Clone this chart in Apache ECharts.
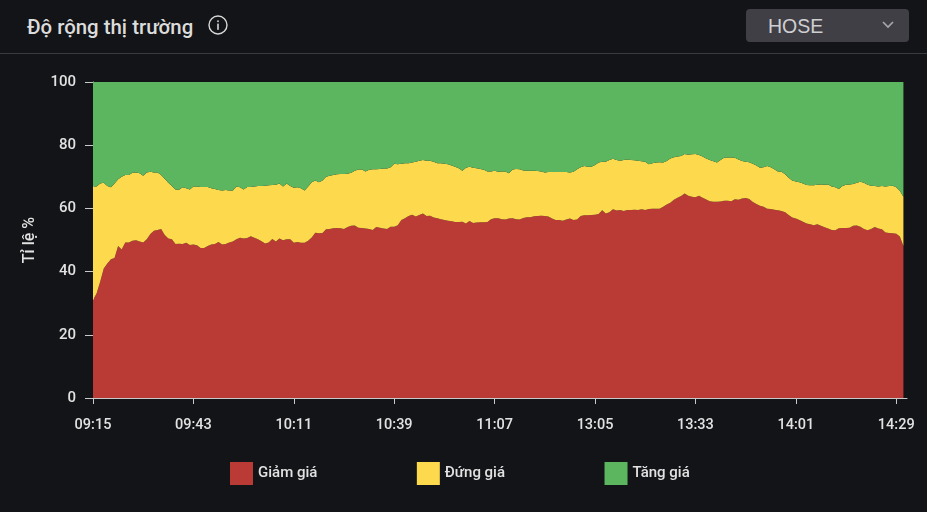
<!DOCTYPE html>
<html lang="vi">
<head>
<meta charset="utf-8">
<title>Độ rộng thị trường</title>
<script src="https://cdn.jsdelivr.net/npm/echarts@6/dist/echarts.min.js"></script>
<style>
  html, body { margin: 0; padding: 0; background: #131417; width: 927px; height: 512px; overflow: hidden; }
  .header { position: absolute; left: 0; top: 0; width: 927px; height: 53px; border-bottom: 1px solid #3b3b3e; font-family: Roboto, sans-serif; }
  .title { position: absolute; left: 27px; top: 15px; font-size: 20.4px; line-height: 24px; font-weight: 500; color: #dcdcdc; }
  .info { position: absolute; left: 208px; top: 15px; }
  .select { position: absolute; left: 746px; top: 9px; width: 163px; height: 33px; background: #3f3f45; border-radius: 4px; }
  .select span { position: absolute; left: 22px; top: 6px; font: 19.5px/22px "Liberation Sans", Arial, sans-serif; color: #cfcfd2; }
  .select svg { position: absolute; left: 135px; top: 11px; }
  #chart { position: absolute; left: 0; top: 54px; width: 927px; height: 458px; }
</style>
</head>
<body>
<div class="header">
  <div class="title">Độ rộng thị trường</div>
  <svg class="info" width="20" height="20" viewBox="0 0 20 20">
    <circle cx="10" cy="10" r="9" fill="none" stroke="#d8d8d8" stroke-width="1.4"/>
    <rect x="9.2" y="8.6" width="1.6" height="6.2" fill="#d8d8d8"/>
    <rect x="9.2" y="5.4" width="1.6" height="1.7" fill="#d8d8d8"/>
  </svg>
  <div class="select">
    <span>HOSE</span>
    <svg width="14" height="10" viewBox="0 0 14 10"><path d="M2 2 L7 7 L12 2" fill="none" stroke="#a9a9ad" stroke-width="1.6"/></svg>
  </div>
</div>
<div id="chart"></div>
<script>
const categories = [
  '09:15','09:16','09:17','09:18','09:19','09:20','09:21','09:22','09:23','09:24','09:25','09:26','09:27','09:28','09:29',
  '09:30','09:31','09:32','09:33','09:34','09:35','09:36','09:37','09:38','09:39','09:40','09:41','09:42','09:43','09:44',
  '09:45','09:46','09:47','09:48','09:49','09:50','09:51','09:52','09:53','09:54','09:55','09:56','09:57','09:58','09:59',
  '10:00','10:01','10:02','10:03','10:04','10:05','10:06','10:07','10:08','10:09','10:10','10:11','10:12','10:13','10:14',
  '10:15','10:16','10:17','10:18','10:19','10:20','10:21','10:22','10:23','10:24','10:25','10:26','10:27','10:28','10:29',
  '10:30','10:31','10:32','10:33','10:34','10:35','10:36','10:37','10:38','10:39','10:40','10:41','10:42','10:43','10:44',
  '10:45','10:46','10:47','10:48','10:49','10:50','10:51','10:52','10:53','10:54','10:55','10:56','10:57','10:58','10:59',
  '11:00','11:01','11:02','11:03','11:04','11:05','11:06','11:07','11:08','11:09','11:10','11:11','11:12','11:13','11:14',
  '11:15','11:16','11:17','11:18','11:19','11:20','11:21','11:22','11:23','11:24','11:25','11:26','11:27','11:28','11:29',
  '13:00','13:01','13:02','13:03','13:04','13:05','13:06','13:07','13:08','13:09','13:10','13:11','13:12','13:13','13:14',
  '13:15','13:16','13:17','13:18','13:19','13:20','13:21','13:22','13:23','13:24','13:25','13:26','13:27','13:28','13:29',
  '13:30','13:31','13:32','13:33','13:34','13:35','13:36','13:37','13:38','13:39','13:40','13:41','13:42','13:43','13:44',
  '13:45','13:46','13:47','13:48','13:49','13:50','13:51','13:52','13:53','13:54','13:55','13:56','13:57','13:58','13:59',
  '14:00','14:01','14:02','14:03','14:04','14:05','14:06','14:07','14:08','14:09','14:10','14:11','14:12','14:13','14:14',
  '14:15','14:16','14:17','14:18','14:19','14:20','14:21','14:22','14:23','14:24','14:25','14:26','14:27','14:28','14:29',
  '14:30','14:31','14:32'
]

const giamGia = [
  31.0,33.1,36.8,41.0,42.6,43.9,44.3,48.1,47.0,49.2,49.2,49.8,49.9,49.5,49.2,
  50.2,51.9,52.9,53.2,53.5,51.6,50.5,50.2,48.7,48.8,48.7,49.1,48.4,48.6,48.3,
  47.5,47.5,48.1,48.6,48.7,49.4,48.6,48.7,49.2,49.5,50.2,50.7,50.5,50.6,51.2,
  50.7,50.2,49.6,48.9,49.2,50.3,49.5,50.5,49.9,50.2,50.2,49.1,49.4,49.1,49.1,
  49.8,50.8,52.3,52.1,52.2,53.4,53.5,53.7,53.8,53.7,53.5,54.1,54.5,54.6,53.9,
  53.8,53.6,53.5,53.2,54.1,53.9,53.6,53.5,54.2,54.2,54.7,56.3,56.9,57.6,58.0,
  57.4,57.9,58.4,57.6,57.7,57.1,56.9,56.6,56.3,56.1,55.9,55.7,55.7,55.8,55.2,
  56.0,55.4,55.5,55.6,55.6,55.7,56.6,56.9,56.9,56.6,56.5,56.8,56.9,56.6,56.5,
  57.0,57.2,57.2,57.5,57.6,57.7,57.6,57.4,56.8,56.3,56.3,56.1,56.5,56.8,56.3,
  56.5,57.6,57.8,57.8,57.9,58.0,58.2,59.4,58.4,58.8,59.7,59.3,59.5,59.2,59.5,
  59.5,59.6,59.5,59.7,59.5,59.8,59.9,59.9,59.9,60.5,61.2,61.8,62.7,63.4,63.9,
  64.7,64.0,63.7,63.5,64.0,63.4,62.8,62.3,62.1,62.1,62.2,62.4,62.4,62.3,62.9,
  62.7,63.1,63.3,63.0,62.0,61.4,60.8,60.5,59.9,59.8,59.6,59.4,59.2,58.8,57.9,
  57.1,56.8,56.3,55.8,55.2,55.0,54.7,55.0,54.5,54.0,53.6,53.2,53.1,53.7,53.8,
  53.8,53.9,54.5,54.6,54.2,53.5,53.1,53.5,54.1,53.6,53.4,52.4,52.2,52.1,52.0,
  51.1,48.1
]

const dungGia = [
  35.9,33.8,31.1,27.1,24.5,22.8,23.6,21.1,23.0,21.4,21.4,21.5,21.5,21.6,21.1,
  21.2,19.7,18.5,18.2,17.1,17.8,17.6,16.9,17.3,17.1,18.0,17.3,17.6,18.3,18.6,
  19.3,19.3,18.7,17.8,17.4,16.4,17.1,17.1,16.5,16.2,16.7,16.0,15.5,16.2,15.6,
  16.2,16.9,17.5,18.3,18.1,17.1,18.0,17.4,17.0,17.7,16.9,17.4,17.3,17.3,16.6,
  17.1,17.5,16.5,16.2,16.6,16.6,16.8,16.9,17.0,17.2,17.4,16.9,16.8,17.3,18.4,
  18.5,18.1,18.7,19.2,18.3,18.6,19.0,19.1,18.8,19.9,19.3,17.8,17.4,16.7,16.5,
  17.4,17.2,16.9,17.5,17.4,17.7,17.4,17.7,17.8,17.9,17.7,17.5,17.0,16.1,17.7,
  17.2,17.5,17.2,16.9,16.6,16.0,15.1,15.0,14.7,15.1,15.2,14.3,15.4,15.9,15.9,
  15.0,14.7,14.7,14.4,14.2,14.0,13.8,14.1,14.7,15.2,15.2,15.4,15.0,14.6,15.3,
  15.9,15.4,15.6,15.4,15.3,15.7,16.3,15.4,16.4,16.5,16.0,16.0,15.6,16.1,16.0,
  15.8,15.6,15.6,15.2,15.3,14.2,14.4,14.6,14.7,14.0,13.8,14.0,13.5,13.0,12.7,
  12.5,13.0,13.4,13.7,12.9,13.0,13.0,13.0,12.8,12.4,13.1,13.6,13.7,13.8,13.1,
  12.8,11.9,11.5,11.6,12.1,12.2,12.1,12.5,13.5,13.2,12.8,12.3,12.4,12.0,11.8,
  11.7,11.7,12.0,12.1,12.2,12.3,12.6,12.5,13.1,13.5,14.0,13.7,13.6,12.4,13.3,
  13.7,13.7,13.2,13.5,14.2,14.6,14.4,13.7,13.0,13.3,13.7,14.5,14.9,15.1,14.7,
  14.5,15.6
]

const tangGia = [
  33.1,33.1,32.1,31.9,32.9,33.3,32.1,30.8,30.0,29.4,29.4,28.7,28.6,28.9,29.7,
  28.6,28.4,28.6,28.6,29.4,30.6,31.9,32.9,34.0,34.1,33.3,33.6,34.0,33.1,33.1,
  33.2,33.2,33.2,33.6,33.9,34.2,34.3,34.2,34.3,34.3,33.1,33.3,34.0,33.2,33.2,
  33.1,32.9,32.9,32.8,32.7,32.6,32.5,32.1,33.1,32.1,32.9,33.5,33.3,33.6,34.3,
  33.1,31.7,31.2,31.7,31.2,30.0,29.7,29.4,29.2,29.1,29.1,29.0,28.7,28.1,27.7,
  27.7,28.3,27.8,27.6,27.6,27.5,27.4,27.4,27.0,25.9,26.0,25.9,25.7,25.7,25.5,
  25.2,24.9,24.7,24.9,24.9,25.2,25.7,25.7,25.9,26.0,26.4,26.8,27.3,28.1,27.1,
  26.8,27.1,27.3,27.5,27.8,28.3,28.3,28.1,28.4,28.3,28.3,28.9,27.7,27.5,27.6,
  28.0,28.1,28.1,28.1,28.2,28.3,28.6,28.5,28.5,28.5,28.5,28.5,28.5,28.6,28.4,
  27.6,27.0,26.6,26.8,26.8,26.3,25.5,25.2,25.2,24.7,24.3,24.7,24.9,24.7,24.5,
  24.7,24.8,24.9,25.1,25.2,26.0,25.7,25.5,25.4,25.5,25.0,24.2,23.8,23.6,23.4,
  22.8,23.0,22.9,22.8,23.1,23.6,24.2,24.7,25.1,25.5,24.7,24.0,23.9,23.9,24.0,
  24.5,25.0,25.2,25.4,25.9,26.4,27.1,27.0,26.6,27.0,27.6,28.3,28.4,29.2,30.3,
  31.2,31.5,31.7,32.1,32.6,32.7,32.7,32.5,32.4,32.5,32.4,33.1,33.3,33.9,32.9,
  32.5,32.4,32.3,31.9,31.6,31.9,32.5,32.8,32.9,33.1,32.9,33.1,32.9,32.8,33.3,
  34.4,36.3
]

const yTicks = [0, 20, 40, 60, 80, 100]
const legendNames = ['Giảm giá', 'Đứng giá', 'Tăng giá']
const colors = ['#ba3a35', '#fdd94e', '#5cb660']

const axisColor = '#c9c9c9'
const textColor = '#e2e2e2'
const fontFamily = 'Roboto, sans-serif'

function areaSeries(name, data, color) {
  return {
    name,
    type: 'line',
    stack: 'total',
    data,
    symbol: 'none',
    smooth: false,
    lineStyle: { width: 0 },
    itemStyle: { color },
    areaStyle: { color, opacity: 1 },
  }
}

const chart = echarts.init(document.getElementById('chart'), null, { renderer: 'canvas' })

chart.setOption({
  animation: false,
  backgroundColor: 'transparent',
  textStyle: { fontFamily },
  grid: { left: 93, right: 20, top: 28, height: 316, containLabel: false },
  legend: {
    data: legendNames,
    left: 225,
    top: 403,
    icon: 'rect',
    itemWidth: 23,
    itemHeight: 23,
    itemGap: 99.5,
    textStyle: { color: textColor, fontSize: 15, fontWeight: 500, fontFamily, padding: [3, 0, 0, 0] },
  },
  xAxis: {
    type: 'category',
    data: categories,
    boundaryGap: false,
    axisLine: { lineStyle: { color: axisColor, width: 1 } },
    axisTick: { interval: 27, length: 6, lineStyle: { color: axisColor } },
    axisLabel: { interval: 27, color: textColor, fontSize: 14.5, fontWeight: 500, margin: 20, hideOverlap: false, showMinLabel: true },
    splitLine: { show: false },
  },
  yAxis: {
    type: 'value',
    min: yTicks[0],
    max: yTicks[yTicks.length - 1],
    interval: 20,
    name: 'Tỉ lệ %',
    nameLocation: 'middle',
    nameGap: 55,
    nameTextStyle: { color: textColor, fontSize: 16, fontWeight: 500, fontFamily },
    axisLine: { show: true, lineStyle: { color: axisColor, width: 1 } },
    axisTick: { show: true, length: 8, lineStyle: { color: axisColor } },
    axisLabel: { color: textColor, fontSize: 15, fontWeight: 500, margin: 17 },
    splitLine: { show: false },
  },
  series: [
    areaSeries(legendNames[0], giamGia, colors[0]),
    areaSeries(legendNames[1], dungGia, colors[1]),
    areaSeries(legendNames[2], tangGia, colors[2]),
  ],
})
</script>
</body>
</html>
